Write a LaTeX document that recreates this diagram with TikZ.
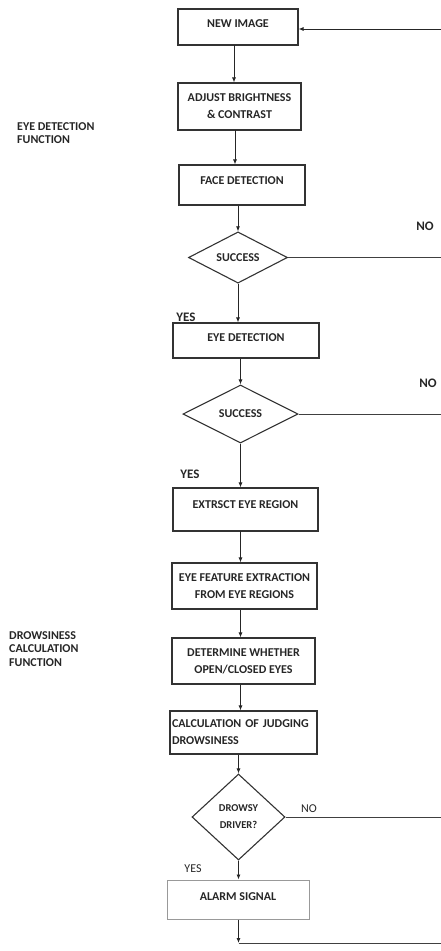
\documentclass[tikz,border=0pt]{standalone}
\usepackage{fontspec}
\setmainfont{Carlito}
\usetikzlibrary{shapes.geometric,arrows.meta}
\begin{document}
\begin{tikzpicture}[x=1pt,y=-1pt,
  every node/.style={font=\bfseries\fontsize{12}{17}\selectfont, text=black!85},
  box/.style={draw=black!80, line width=1.1pt, rectangle, align=center, inner sep=2pt},
  up/.style={text depth=#1},
  dia/.style={draw=black!80, line width=1.1pt, diamond, aspect=1, inner sep=0pt, align=center},
  arr/.style={draw=black!85, line width=0.8pt, -{Latex[length=5pt,width=4pt]}},
  ln/.style={draw=black!75, line width=0.8pt},
  lab/.style={align=left, anchor=north west, inner sep=0pt, font=\bfseries\fontsize{12}{13.5}\selectfont},
]
\useasboundingbox (0,0) rectangle (441,951);
\coordinate (redge) at (441,0);

\node[box, up=6pt, minimum width=120, minimum height=36] (new) at (238,27) {NEW IMAGE};
\node[box, minimum width=123, minimum height=47] (adj) at (239.5,106.5) {ADJUST BRIGHTNESS\\\& CONTRAST};
\node[box, up=8pt, minimum width=126, minimum height=40] (face) at (242,185) {FACE DETECTION};
\node[dia, minimum width=99, minimum height=49] (d1) at (238,257.5) {SUCCESS};
\node[box, up=5pt, minimum width=146, minimum height=35] (eye) at (246,340.5) {EYE DETECTION};
\node[dia, minimum width=115, minimum height=58] (d2) at (240.5,414) {SUCCESS};
\node[box, up=9pt, minimum width=145, minimum height=43] (ext) at (245.5,509.5) {EXTRSCT EYE REGION};
\node[box, minimum width=145, minimum height=46] (feat) at (244.5,586) {EYE FEATURE EXTRACTION\\FROM EYE REGIONS};
\node[box, minimum width=143, minimum height=46] (det) at (243.5,661) {DETERMINE WHETHER\\OPEN/CLOSED EYES};
\node[box, minimum width=147, minimum height=43, align=left, text width=143] (calc) at (243.5,732.5) {CALCULATION OF JUDGING\\DROWSINESS};
\node[dia, minimum width=93, minimum height=86, font=\bfseries\fontsize{10.5}{17}\selectfont] (d3) at (238.5,817) {DROWSY\\DRIVER?};
\node[box, up=5pt, draw=black!40, line width=1pt, minimum width=142, minimum height=39] (alarm) at (238,899.5) {ALARM SIGNAL};

% left labels
\node[lab] (l1) at (17,122) {EYE DETECTION\\FUNCTION};
\node[lab] (l2) at (9,631) {DROWSINESS\\CALCULATION\\FUNCTION};

% vertical arrows
\coordinate (c1) at (234,45);
\draw[arr] (c1) -- (c1 |- adj.north);
\coordinate (c2) at (235,130);
\draw[arr] (c2) -- (c2 |- face.north);
\draw[arr] (face.south -| d1.north) -- (d1.north);
\draw[arr] (d1.south) -- (d1.south |- eye.north);
\draw[arr] (eye.south -| d2.north) -- (d2.north);
\draw[arr] (d2.south) -- (d2.south |- ext.north);
\coordinate (c3) at (240.5,531);
\draw[arr] (c3) -- (c3 |- feat.north);
\draw[arr] (c3 |- feat.south) -- (c3 |- det.north);
\draw[arr] (c3 |- det.south) -- (c3 |- calc.north);
\draw[arr] (calc.south -| d3.north) -- (d3.north);
\draw[arr] (d3.south) -- (d3.south |- alarm.north);
\coordinate (bot) at (238.5,943);
\draw[arr] (bot |- alarm.south) -- (bot);
\draw[ln] (bot) -- (bot -| redge);

% feedback lines
\coordinate (r0) at (441,29);
\draw[arr] (r0) -- (r0 -| new.east);
\draw[ln] (d1.east) -- (d1.east -| redge);
\draw[ln] (d2.east) -- (d2.east -| redge);
\draw[ln] (d3.east) -- (d3.east -| redge);

% labels
\node[font=\bfseries\fontsize{13}{14}\selectfont] (no1) at (425,226) {NO};
\node[font=\bfseries\fontsize{13}{14}\selectfont] (no2) at (428,383) {NO};
\node[font=\fontsize{12}{14}\selectfont] (no3) at (309,809) {NO};
\node[font=\bfseries\fontsize{13}{14}\selectfont] (yes1) at (186,317) {YES};
\node[font=\bfseries\fontsize{13}{14}\selectfont] (yes2) at (190,474) {YES};
\node[font=\fontsize{12}{14}\selectfont] (yes3) at (193,869) {YES};
\end{tikzpicture}
\end{document}
